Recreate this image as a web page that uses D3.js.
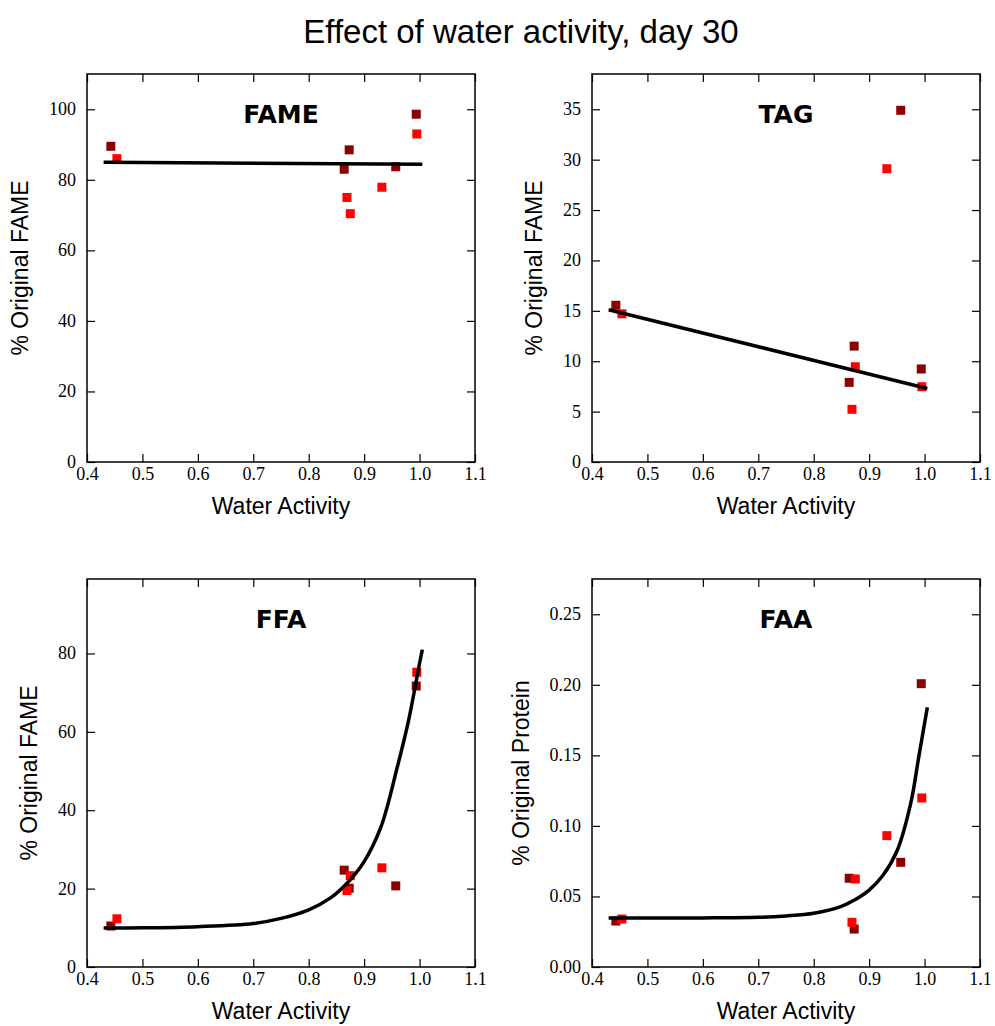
<!DOCTYPE html>
<html lang="en">
<head>
    <meta charset="utf-8">
    <title>Effect of water activity, day 30</title>
    <script src="https://cdn.jsdelivr.net/npm/d3@7"></script>
    <style>
        body { margin: 0; background: #fff; }
        .tick text { font-family: "Liberation Serif", serif; font-size: 18px; fill: #000; }
        .tick line { stroke: #000; stroke-width: 1.2; }
    </style>
</head>
<body>
<script>
    // water activity of the samples (two replicates)
    var awDark = [0.443, 0.864, 0.873, 0.957, 0.994];
    var awRed  = [0.454, 0.869, 0.875, 0.932, 0.995];

    var fameDark = [89.5, 83.0, 88.5, 83.7, 98.6];
    var fameRed  = [86.0, 75.0, 70.4, 77.9, 93.0];
    var tagDark  = [15.55, 7.9, 11.5, 34.9, 9.23];
    var tagRed   = [14.7, 5.23, 9.45, 29.1, 7.47];
    var ffaDark  = [10.46, 24.7, 20.1, 20.7, 71.7];
    var ffaRed   = [12.3, 19.5, 23.3, 25.3, 75.2];
    var faaDark  = [0.0326, 0.0629, 0.0269, 0.0742, 0.2008];
    var faaRed   = [0.0340, 0.0317, 0.0624, 0.0931, 0.1198];

    // fitted curves
    var lineX   = [0.43, 1.005];
    var fameFit = [85.0, 84.4];
    var tagFit  = [15.1, 7.3];
    var ffaFitX = [0.43, 0.5, 0.6, 0.7, 0.75, 0.8, 0.84, 0.87, 0.9, 0.93, 0.96, 0.98, 1.0, 1.005];
    var ffaFit  = [9.95, 10.0, 10.3, 11.1, 12.4, 14.6, 17.7, 21.5, 26.9, 35.6, 51.1, 62.8, 77.5, 81.0];
    var faaFitX = [0.43, 0.6, 0.7, 0.75, 0.8, 0.85, 0.875, 0.9, 0.925, 0.95, 0.975, 0.99, 1.005];
    var faaFit  = [0.0348, 0.0348, 0.0352, 0.0362, 0.0381, 0.0430, 0.0478, 0.0545, 0.0650, 0.082, 0.116, 0.150, 0.184];

    var xTicks = [0.4, 0.5, 0.6, 0.7, 0.8, 0.9, 1.0, 1.1];

    var panels = [
        {name: "FAME", ylabel: "% Original FAME", ymax: 110, ticks: [0, 20, 40, 60, 80, 100], fmt: "d",
         dark: fameDark, red: fameRed, fx: lineX, fit: fameFit, left: 87, top: 74},
        {name: "TAG", ylabel: "% Original FAME", ymax: 38.5, ticks: [0, 5, 10, 15, 20, 25, 30, 35], fmt: "d",
         dark: tagDark, red: tagRed, fx: lineX, fit: tagFit, left: 592, top: 74},
        {name: "FFA", ylabel: "% Original FAME", ymax: 99, ticks: [0, 20, 40, 60, 80], fmt: "d",
         dark: ffaDark, red: ffaRed, fx: ffaFitX, fit: ffaFit, left: 87, top: 579},
        {name: "FAA", ylabel: "% Original Protein", ymax: 0.275, ticks: [0, 0.05, 0.1, 0.15, 0.2, 0.25], fmt: ".2f",
         dark: faaDark, red: faaRed, fx: faaFitX, fit: faaFit, left: 592, top: 579}
    ];

    var w = 995, h = 1026;
    var pw = 388, ph = 388;
    var sansFont = "'Liberation Sans', sans-serif";

    var svg = d3.select("body").append("svg")
        .attr("width", w)
        .attr("height", h);

    svg.append("text")
        .attr("x", 521)
        .attr("y", 43)
        .attr("text-anchor", "middle")
        .attr("font-family", sansFont)
        .attr("font-size", "33px")
        .text("Effect of water activity, day 30");

    panels.forEach(function (p) {
        var g = svg.append("g").attr("transform", "translate(" + p.left + "," + p.top + ")");

        var x = d3.scaleLinear().domain([0.4, 1.1]).range([0, pw]);
        var y = d3.scaleLinear().domain([0, p.ymax]).range([ph, 0]);

        // axes, ticks pointing inward on all four sides
        var bottom = g.append("g").attr("transform", "translate(0," + ph + ")")
            .call(d3.axisBottom(x).tickValues(xTicks).tickFormat(d3.format(".1f")).tickSize(-8).tickPadding(5));
        g.append("g")
            .call(d3.axisTop(x).tickValues(xTicks).tickFormat("").tickSize(-8));
        var leftAx = g.append("g")
            .call(d3.axisLeft(y).tickValues(p.ticks).tickFormat(d3.format(p.fmt)).tickSize(-8).tickPadding(11));
        g.append("g").attr("transform", "translate(" + pw + ",0)")
            .call(d3.axisRight(y).tickValues(p.ticks).tickFormat("").tickSize(-8));
        g.selectAll(".domain").remove();
        leftAx.selectAll(".tick text").attr("dy", "0.3em");
        bottom.selectAll(".tick text").attr("dy", "0.71em");

        // markers
        g.selectAll("rect.dark")
            .data(p.dark)
            .enter()
            .append("rect")
            .attr("class", "dark")
            .attr("x", function (d, i) { return x(awDark[i]) - 4.5; })
            .attr("y", function (d) { return y(d) - 4.5; })
            .attr("width", 9)
            .attr("height", 9)
            .attr("fill", "#8b0000");

        g.selectAll("rect.red")
            .data(p.red)
            .enter()
            .append("rect")
            .attr("class", "red")
            .attr("x", function (d, i) { return x(awRed[i]) - 4.5; })
            .attr("y", function (d) { return y(d) - 4.5; })
            .attr("width", 9)
            .attr("height", 9)
            .attr("fill", "#ff0000");

        // fit
        var line = d3.line()
            .x(function (d, i) { return x(p.fx[i]); })
            .y(function (d) { return y(d); })
            .curve(d3.curveCatmullRom.alpha(0.5));
        g.append("path")
            .datum(p.fit)
            .attr("d", line)
            .attr("fill", "none")
            .attr("stroke", "#000")
            .attr("stroke-width", 3.5);

        // frame
        g.append("rect")
            .attr("width", pw)
            .attr("height", ph)
            .attr("fill", "none")
            .attr("stroke", "#000")
            .attr("stroke-width", 1.5);

        g.append("text")
            .attr("x", pw / 2)
            .attr("y", 49)
            .attr("text-anchor", "middle")
            .attr("font-family", "'DejaVu Sans', sans-serif")
            .attr("font-weight", "bold")
            .attr("font-size", "25px")
            .text(p.name);

        g.append("text")
            .attr("x", pw / 2)
            .attr("y", ph + 52)
            .attr("text-anchor", "middle")
            .attr("font-family", sansFont)
            .attr("font-size", "23px")
            .text("Water Activity");

        var tickBox = leftAx.node().getBBox();
        g.append("text")
            .attr("transform", "translate(" + (tickBox.x - 21) + "," + (ph / 2) + ") rotate(-90)")
            .attr("text-anchor", "middle")
            .attr("font-family", sansFont)
            .attr("font-size", "23px")
            .text(p.ylabel);
    });
</script>
</body>
</html>
